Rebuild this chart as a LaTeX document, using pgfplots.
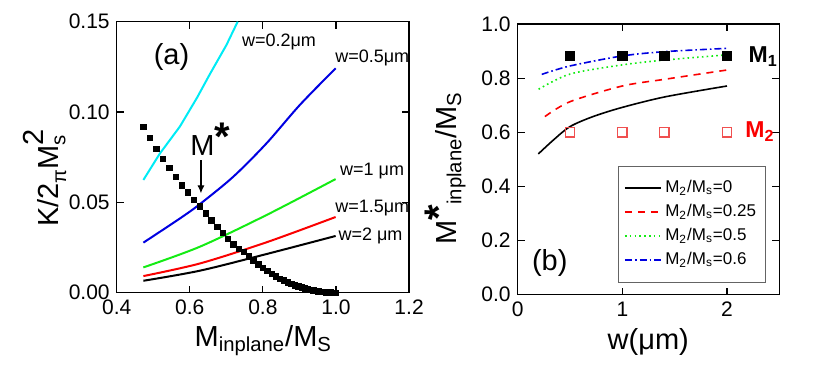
\documentclass[border=0pt]{standalone}
\usepackage{fontspec}
\setmainfont{Liberation Sans}
\usepackage{amsmath}
\usepackage{pgfplots}
\pgfplotsset{compat=1.18}
\usetikzlibrary{arrows.meta}

\definecolor{cyanline}{RGB}{0,235,245}
\definecolor{blueline}{RGB}{0,0,225}
\definecolor{greenline}{RGB}{20,235,20}
\definecolor{redline}{RGB}{250,0,0}
\definecolor{opensq}{RGB}{240,80,80}
\definecolor{legframe}{RGB}{100,100,100}

% big raised asterisk
\newcommand{\bigstarsup}{\raisebox{2.3pt}{\fontsize{20}{20}\selectfont\bfseries *}}

\pgfplotsset{
  panel/.style={
    scale only axis,
    clip mode=individual,
    axis line style={line width=0.6pt},
    tick align=inside,
    major tick length=3.5pt,
    tick style={line width=0.6pt, black},
    /pgf/number format/assume math mode=true,
    ticklabel style={font=\fontsize{10.5}{12}\selectfont},
  },
}

\begin{document}
\begin{tikzpicture}
\useasboundingbox (0,0) rectangle (415pt,184.5pt);

% ---- (a) ----
\begin{axis}[panel,
  at={(58.35pt,38.15pt)}, anchor=south west,
  width=146.2pt, height=135.5pt,
  xmin=0.4, xmax=1.2, ymin=0, ymax=0.15,
  xtick={0.4,0.6,0.8,1.0,1.2},
  ytick={0,0.05,0.10,0.15},
  xticklabel style={/pgf/number format/.cd, fixed, fixed zerofill, precision=1},
  yticklabel style={/pgf/number format/.cd, fixed, fixed zerofill, precision=2},
]
\addplot[cyanline, line width=1pt] coordinates {
  (0.473,0.0624) (0.518,0.0770) (0.573,0.0920) (0.620,0.1080)
  (0.655,0.1210) (0.700,0.1370) (0.731,0.1500)
};
\addplot[blueline, line width=1pt, smooth] coordinates {
  (0.473,0.0277) (0.573,0.0411) (0.628,0.0491) (0.719,0.0642)
  (0.810,0.0827) (0.901,0.1039) (0.999,0.1242)
};
\addplot[greenline, line width=1pt, smooth] coordinates {
  (0.473,0.0140) (0.628,0.0255) (0.810,0.0430) (0.999,0.0629)
};
\addplot[redline, line width=1pt, smooth] coordinates {
  (0.473,0.0092) (0.628,0.0162) (0.810,0.0279) (0.999,0.0419)
};
\addplot[black, line width=1pt, smooth] coordinates {
  (0.473,0.0066) (0.628,0.0122) (0.810,0.0214) (0.999,0.0314)
};
% M* curve, squares
\addplot[only marks, mark=square*, mark size=1.35pt, black] coordinates {
  (0.4726,0.0918) (0.4908,0.0856) (0.5087,0.0797) (0.5264,0.0742)
  (0.5439,0.0690) (0.5612,0.0640) (0.5782,0.0595) (0.5949,0.0555)
  (0.6115,0.0515) (0.6278,0.0478) (0.6438,0.0440) (0.6596,0.0400)
  (0.6751,0.0364) (0.6902,0.0330) (0.7050,0.0298) (0.7197,0.0268)
  (0.7338,0.0241) (0.7478,0.0225) (0.7614,0.0200) (0.7745,0.0178)
  (0.7875,0.0157) (0.8001,0.0138) (0.8124,0.0120) (0.8243,0.0105)
  (0.8358,0.0091) (0.8471,0.0078) (0.8579,0.0067) (0.8684,0.0057)
  (0.8785,0.0049) (0.8882,0.0041) (0.8976,0.0035) (0.9065,0.0029)
  (0.9151,0.0024) (0.9233,0.0019) (0.9310,0.0016) (0.9384,0.0013)
  (0.9453,0.0010) (0.9519,0.0008) (0.9581,0.0006) (0.9638,0.0004)
  (0.9691,0.0003) (0.9740,0.0002) (0.9785,0.0002) (0.9826,0.0001)
  (0.9862,0.0001) (0.9894,0.0000) (0.9922,0.0000) (0.9946,0.0000)
  (0.9965,0.0000) (0.9980,0.0000) (0.9991,0.0000) (0.9998,0.0000)
  (1.0000,0.0000)
};
\draw[line width=0.6pt, -{Latex[length=4pt, width=3.6pt]}] (axis cs:0.6305,0.0734) -- (axis cs:0.6305,0.0550);
\node[anchor=base west, inner sep=0pt, font=\fontsize{14.5}{16}\selectfont] at (axis cs:0.6005,0.0762) {M\bigstarsup};
\node[font=\fontsize{14.5}{16}\selectfont] at (axis cs:0.550,0.1306) {(a)};
\begin{scope}[every node/.style={anchor=base west, inner sep=0pt, font=\fontsize{9}{10}\selectfont}]
\node at (axis cs:0.742,0.1362) {w=0.2μm};
\node at (axis cs:0.997,0.1273) {w=0.5μm};
\node at (axis cs:1.0105,0.0646) {w=1 μm};
\node at (axis cs:0.997,0.0443) {w=1.5μm};
\node at (axis cs:1.006,0.0288) {w=2 μm};
\end{scope}
\end{axis}

% ---- (b) ----
\begin{axis}[panel,
  at={(258.85pt,37.15pt)}, anchor=south west,
  width=130.8pt, height=135.35pt,
  xmin=0, xmax=2.5, ymin=0, ymax=1,
  xtick={0,1,2},
  ytick={0,0.2,0.4,0.6,0.8,1.0},
  yticklabel style={/pgf/number format/.cd, fixed, fixed zerofill, precision=1},
  legend style={at={(axis description cs:0.382,0.4765)}, anchor=north west,
    draw=legframe, line width=0.5pt, font=\fontsize{8.5}{9}\selectfont,
    inner xsep=3pt, inner ysep=5pt, row sep=0pt,
    nodes={text height=6pt, text depth=2pt, inner ysep=2pt, inner xsep=2pt}},
  legend cell align=left,
  legend image code/.code={\draw[#1] (0pt,0pt) -- (17.8pt,0pt);},
]
\addplot[black, line width=0.8pt, smooth] coordinates {
  (0.197,0.520) (0.34,0.571) (0.5,0.621) (0.72,0.658) (1.0,0.692) (1.41,0.731) (2.0,0.771)
};
\addlegendentry{M$_\text{2}$/M$_\text{s}$=0}
\addplot[redline, line width=0.8pt, dash pattern=on 3.5pt off 3pt, smooth] coordinates {
  (0.26,0.658) (0.5,0.713) (1.0,0.771) (1.41,0.796) (2.0,0.830)
};
\addlegendentry{M$_\text{2}$/M$_\text{s}$=0.25}
\addplot[greenline, line width=0.8pt, dash pattern=on 0.8pt off 1.6pt, smooth] coordinates {
  (0.2,0.759) (0.5,0.815) (1.0,0.849) (1.41,0.867) (2.0,0.886)
};
\addlegendentry{M$_\text{2}$/M$_\text{s}$=0.5}
\addplot[blueline, line width=0.8pt, dash pattern=on 3.5pt off 1.5pt on 0.8pt off 1.5pt, smooth] coordinates {
  (0.23,0.814) (0.5,0.845) (1.0,0.882) (1.41,0.898) (2.0,0.910)
};
\addlegendentry{M$_\text{2}$/M$_\text{s}$=0.6}
\addplot[only marks, mark=square*, mark size=2.35pt, black, forget plot] coordinates {
  (0.5,0.882) (1.0,0.882) (1.4,0.882) (2.0,0.882)
};
\addplot[only marks, mark=square, mark size=2.35pt, opensq, mark options={line width=0.6pt}, forget plot] coordinates {
  (0.5,0.600) (1.0,0.600) (1.4,0.600) (2.0,0.600)
};
\node[anchor=base west, inner sep=0pt, font=\fontsize{11.5}{12}\selectfont\bfseries] at (axis cs:2.204,0.857) {M$_\text{1}$};
\node[anchor=base west, inner sep=0pt, text=redline, font=\fontsize{11.5}{12}\selectfont\bfseries] at (axis cs:2.172,0.580) {M$_\text{2}$};
\node[font=\fontsize{14.5}{16}\selectfont] at (axis cs:0.306,0.116) {(b)};
\end{axis}

% axis labels
\begin{scope}[every node/.style={inner sep=0pt, anchor=base, font=\fontsize{14.5}{16}\selectfont}]
\node at (131.65pt,11.15pt) {M$_\text{inplane}$/M$_\text{S}$};
\node[rotate=90] at (29.1pt,95.75pt) {K/2\raisebox{-4pt}{\fontsize{10}{10}\selectfont π}M$_\text{s}^{\raisebox{2pt}{\text{2}}}$};
\node at (324.15pt,9.5pt) {w(μm)};
\node[rotate=90] at (228.35pt,100.5pt) {M\bigstarsup$_\text{inplane}$/M$_\text{S}$};
\end{scope}
\end{tikzpicture}
\end{document}
